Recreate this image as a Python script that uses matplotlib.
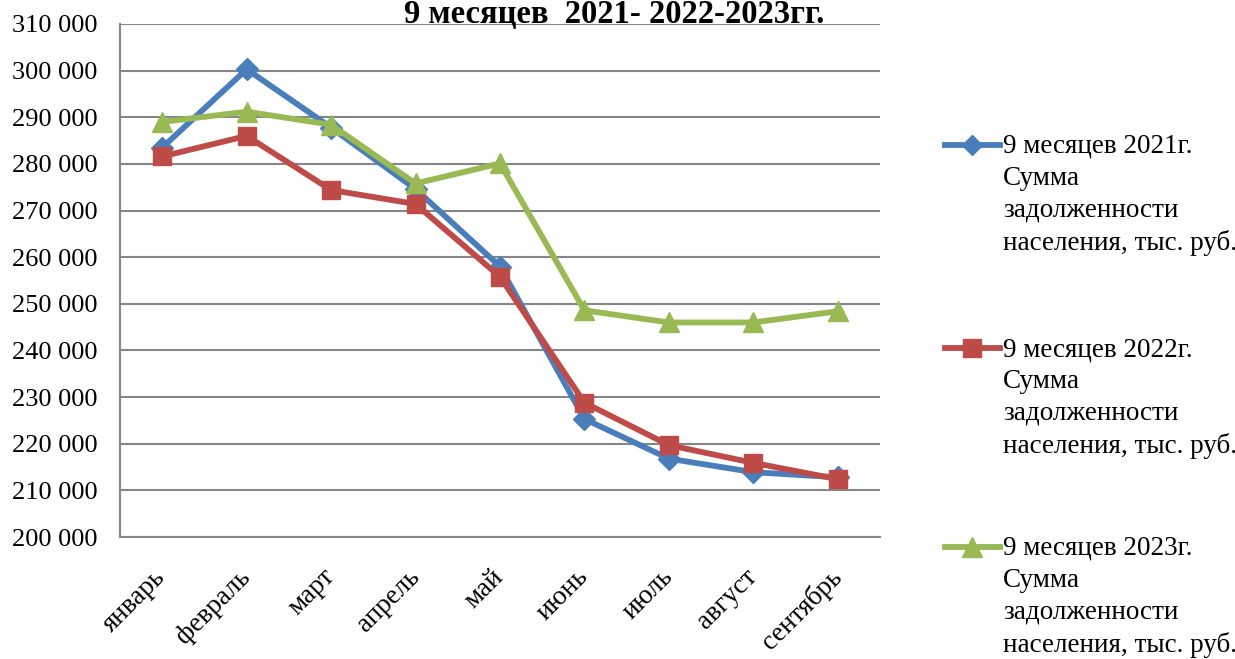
import matplotlib.pyplot as plt
from matplotlib.lines import Line2D
from matplotlib.ticker import FuncFormatter

plt.rcParams['font.family'] = ['Liberation Serif', 'DejaVu Serif']

# Data
months = ["январь", "февраль", "март", "апрель", "май",
          "июнь", "июль", "август", "сентябрь"]
debt_2021 = [283500, 300300, 287800, 274600, 258000, 225300, 216800, 213900, 212800]
debt_2022 = [281600, 286000, 274400, 271400, 255800, 228800, 219700, 215900, 212400]
debt_2023 = [289000, 291200, 288400, 275800, 280100, 248600, 246000, 246000, 248400]

labels = [
    "9 месяцев 2021г.\nСумма\nзадолженности\nнаселения, тыс. руб.",
    "9 месяцев 2022г.\nСумма\nзадолженности\nнаселения, тыс. руб.",
    "9 месяцев 2023г.\nСумма\nзадолженности\nнаселения, тыс. руб.",
]
series = [debt_2021, debt_2022, debt_2023]
colors = ["#4A7EBB", "#BE4B48", "#98B954"]
markers = ["D", "s", "^"]
msizes = [11, 13.5, 15]

fig = plt.figure(figsize=(12.35, 6.59), dpi=100)
ax = fig.add_axes([120 / 1235, 1 - 537 / 659, 760 / 1235, 513 / 659])

x = list(range(len(months)))
for vals, c, m, ms in zip(series, colors, markers, msizes):
    ax.plot(x, vals, color=c, lw=4.2, marker=m, markersize=ms,
            markeredgecolor=c, solid_joinstyle="round")

ax.set_xlim(-0.5, len(months) - 0.5)
ax.set_ylim(200000, 310000)
ax.set_yticks(range(200000, 310001, 10000))
ax.yaxis.set_major_formatter(FuncFormatter(lambda v, p: f"{int(v):,}".replace(",", " ")))
ax.set_xticks(x)
ax.set_xticklabels(months, rotation=45, ha="right", va="center",
                   rotation_mode="anchor", fontsize=19.5)
ax.tick_params(axis="x", length=0, pad=26)
ax.tick_params(axis="y", length=0, pad=16, labelsize=19)

ax.grid(axis="y", color="#868686", lw=1.5)
ax.set_axisbelow(True)
for side in ["top", "right"]:
    ax.spines[side].set_visible(False)
for side in ["left", "bottom"]:
    ax.spines[side].set_color("#868686")
    ax.spines[side].set_linewidth(1.5)

# Title
fig.text(614 / 1235, 1 - 23 / 659, "9 месяцев  2021- 2022-2023гг.", ha="center",
         va="baseline", fontsize=23.5, fontweight="bold")

# Legend, Excel style: marker aligned with first line of the label
legend_y = [145, 348, 547]
for lab, c, m, ms, ly in zip(labels, colors, markers, msizes, legend_y):
    yf = 1 - ly / 659
    fig.add_artist(Line2D([945 / 1235, 972 / 1235, 1000 / 1235], [yf, yf, yf],
                          transform=fig.transFigure, color=c, lw=4.2,
                          marker=m, markevery=[1], markersize=ms * 0.95,
                          markeredgecolor=c))
    fig.text(1003 / 1235, 1 - (ly - 11) / 659, lab, ha="left", va="top",
             fontsize=19.5, linespacing=1.36)

plt.savefig("out.png", dpi=100)
